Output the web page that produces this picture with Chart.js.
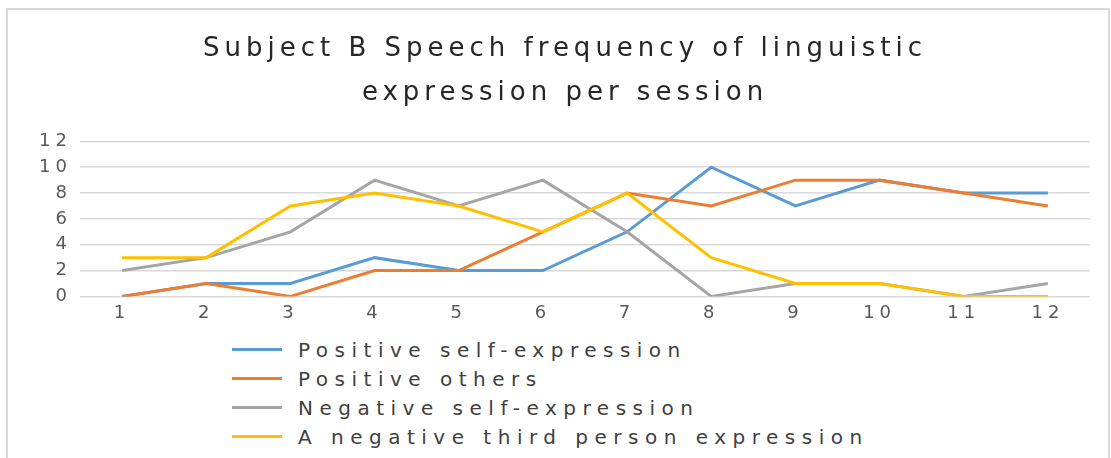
<!DOCTYPE html>
<html>
<head>
<meta charset="utf-8">
<script src="https://cdn.jsdelivr.net/npm/chart.js@4"></script>
<style>
  body { margin: 0; background: #fff; width: 1111px; height: 458px; overflow: hidden; position: relative; font-family: "DejaVu Sans", sans-serif; }
  #frame { position: absolute; left: 6px; top: 8px; width: 1100px; height: 470px; border: 2px solid #d9d9d9; border-bottom: none; }
  #wrap { position: absolute; left: 0; top: 0; width: 1111px; height: 327px; }
  #legend { position: absolute; left: 232px; top: 335px; }
  .row { height: 29px; display: flex; align-items: center; }
  .swatch { width: 50px; height: 3px; margin-right: 16px; }
  .label { font-size: 20px; letter-spacing: 6.5px; color: #404040; white-space: nowrap; }
</style>
</head>
<body>
<div id="frame"></div>
<div id="wrap"><canvas id="myChart"></canvas></div>
<div id="legend"></div>
<script>
const sessions = ['1', '2', '3', '4', '5', '6', '7', '8', '9', '10', '11', '12'];
const seriesNames = ['Positive self-expression', 'Positive others', 'Negative self-expression', 'A negative third person expression'];
const positiveSelf = [0, 1, 1, 3, 2, 2, 5, 10, 7, 9, 8, 8];
const positiveOthers = [0, 1, 0, 2, 2, 5, 8, 7, 9, 9, 8, 7];
const negativeSelf = [2, 3, 5, 9, 7, 9, 5, 0, 1, 1, 0, 1];
const negativeThird = [3, 3, 7, 8, 7, 5, 8, 3, 1, 1, 0, 0];
const colors = ['#5b9bd5', '#ed7d31', '#a5a5a5', '#ffc000'];

const values = [positiveSelf, positiveOthers, negativeSelf, negativeThird];

// the reference text is stretched wide, letter spacing gets close
const spacing = {
  id: 'spacing',
  beforeDraw(chart) { chart.ctx.letterSpacing = '5px'; }
};

const data = {
  labels: sessions,
  datasets: values.map((v, i) => ({
    label: seriesNames[i],
    data: v,
    borderColor: colors[i],
    backgroundColor: colors[i],
    borderWidth: 3,
    pointRadius: 0,
    fill: false,
    tension: 0,
    order: 4 - i
  }))
};

const myChart = new Chart('myChart', {
  type: 'line',
  data: data,
  plugins: [spacing],
  options: {
    responsive: true,
    maintainAspectRatio: false,
    animation: false,
    layout: { padding: { left: 40, right: 21, top: 0, bottom: 5 } },
    plugins: {
      legend: { display: false },
      tooltip: { enabled: false },
      title: {
        display: true,
        text: ['Subject B Speech frequency of linguistic', 'expression per session'],
        color: '#262626',
        font: { family: '"DejaVu Sans"', size: 26, weight: 'normal', lineHeight: 1.7 },
        padding: { top: 27, bottom: 26 }
      }
    },
    scales: {
      x: {
        offset: true,
        grid: { display: false },
        border: { display: false },
        ticks: { color: '#595959', padding: -2, font: { family: '"DejaVu Sans"', size: 18 } }
      },
      y: {
        min: 0,
        max: 12,
        ticks: { stepSize: 2, autoSkip: false, color: '#595959', padding: 8, font: { family: '"DejaVu Sans"', size: 18 } },
        grid: { color: '#d9d9d9', lineWidth: 1.5, drawTicks: false },
        border: { display: false },
        afterFit: (s) => { s.width = 40; }
      }
    }
  }
});

const legend = document.getElementById('legend');
legend.innerHTML = seriesNames.map((n, i) =>
  `<div class="row"><div class="swatch" style="background:${colors[i]}"></div><div class="label">${n}</div></div>`
).join('');
</script>
</body>
</html>
